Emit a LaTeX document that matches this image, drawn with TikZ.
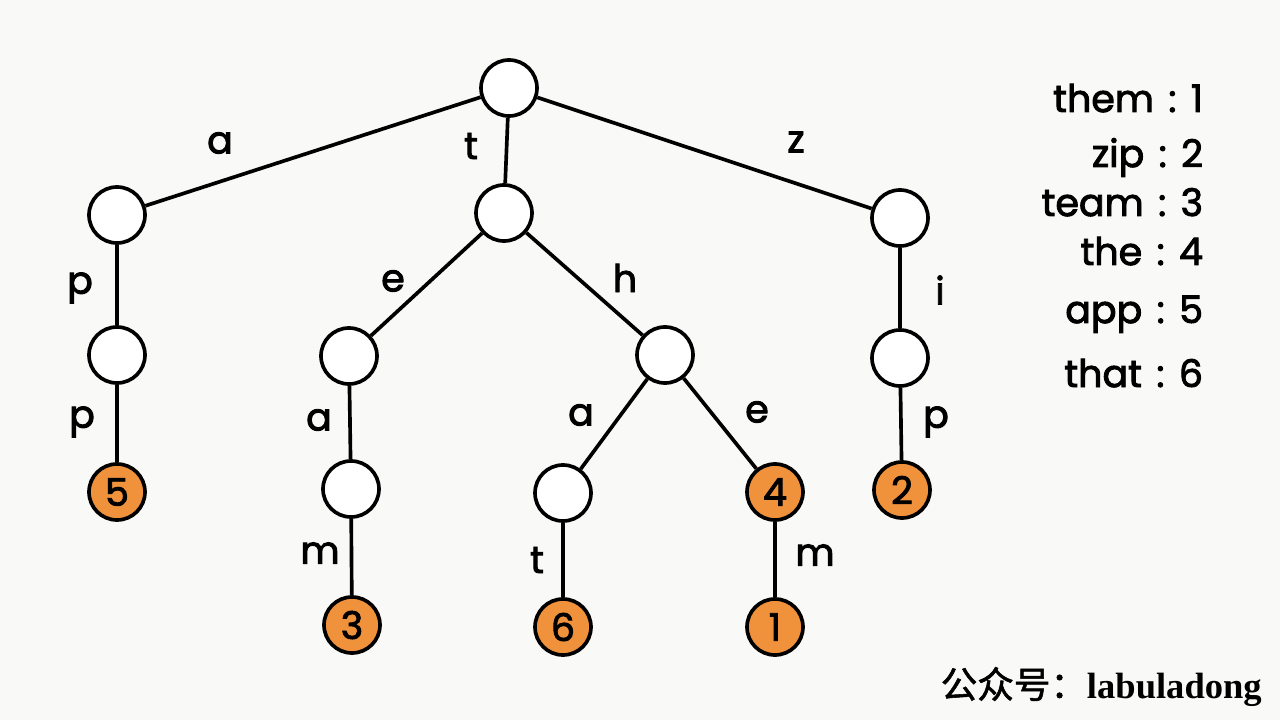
\documentclass[tikz,border=0pt]{standalone}
\usepackage{fontspec}
\setmainfont{Poppins}[BoldFont={Poppins}, BoldFeatures={FakeBold=2.4}]
\newfontfamily\cjkfont{Noto Sans CJK SC}[BoldFont={Noto Sans CJK SC}, BoldFeatures={FakeBold=1.5}]
\newfontfamily\signfont{Liberation Serif}
\definecolor{trieorange}{RGB}{240,145,60}
\definecolor{paper}{RGB}{249,249,247}
\newcommand{\colsep}{\hspace{0.38em}:\hspace{0.38em}}

\begin{document}
\begin{tikzpicture}[
        trienode/.style={circle, draw, line width=2.6pt, minimum size=1.4cm, inner sep=0pt, fill=white},
        wordend/.style={trienode, fill=trieorange, font=\fontsize{27}{30}\selectfont\bfseries},
        lbl/.style={font=\fontsize{27}{30}\selectfont\bfseries},
        lnk/.style={line width=2.6pt},
        legend/.style={anchor=base east, font=\fontsize{27}{30}\selectfont\bfseries}
    ]
        \fill[paper] (0,0) rectangle (32,18);
        \useasboundingbox (0,0) rectangle (32,18);

        % trie nodes
        \node[trienode] (root) at (12.725,15.8) {};
        \node[trienode] (na) at (2.925,12.625) {};
        \node[trienode] (nt) at (12.6,12.675) {};
        \node[trienode] (nz) at (22.5,12.55) {};
        \node[trienode] (nap) at (2.925,9.125) {};
        \node[wordend] (napp) at (2.925,5.7) {5};
        \node[trienode] (nte) at (8.725,9.1) {};
        \node[trienode] (ntea) at (8.775,5.775) {};
        \node[wordend] (nteam) at (8.8,2.375) {3};
        \node[trienode] (nth) at (16.625,9.125) {};
        \node[trienode] (ntha) at (14.075,5.675) {};
        \node[wordend] (nthat) at (14.075,2.325) {6};
        \node[wordend] (nthe) at (19.375,5.7) {4};
        \node[wordend] (nthem) at (19.375,2.325) {1};
        \node[trienode] (nzi) at (22.5,9.05) {};
        \node[wordend] (nzip) at (22.55,5.75) {2};

        % links
        \draw[lnk] (root) -- (na);
        \draw[lnk] (root) -- (nt);
        \draw[lnk] (root) -- (nz);
        \draw[lnk] (na) -- (nap);
        \draw[lnk] (nap) -- (napp);
        \draw[lnk] (nt) -- (nte);
        \draw[lnk] (nte) -- (ntea);
        \draw[lnk] (ntea) -- (nteam);
        \draw[lnk] (nt) -- (nth);
        \draw[lnk] (nth) -- (ntha);
        \draw[lnk] (ntha) -- (nthat);
        \draw[lnk] (nth) -- (nthe);
        \draw[lnk] (nthe) -- (nthem);
        \draw[lnk] (nz) -- (nzi);
        \draw[lnk] (nzi) -- (nzip);

        % letters on the links
        \node[lbl] (la) at (5.5,14.425) {a};
        \node[lbl] (lt) at (11.775,14.35) {t};
        \node[lbl] (lz) at (19.9,14.45) {z};
        \node[lbl] (lap) at (2.0,10.8) {p};
        \node[lbl] (lapp) at (2.05,7.45) {p};
        \node[lbl] (lte) at (9.825,10.975) {e};
        \node[lbl] (lth) at (15.625,11.05) {h};
        \node[lbl] (ltea) at (7.975,7.5) {a};
        \node[lbl] (lteam) at (8.0,4.175) {m};
        \node[lbl] (ltha) at (14.525,7.625) {a};
        \node[lbl] (lthat) at (13.425,4.0) {t};
        \node[lbl] (lthe) at (18.925,7.7) {e};
        \node[lbl] (lthem) at (20.375,4.125) {m};
        \node[lbl] (lzi) at (23.5,10.75) {i};
        \node[lbl] (lzip) at (23.4,7.45) {p};

        % word list
        \node[legend] (w1) at (30.2,15.2) {them\colsep1};
        \node[legend] (w2) at (30.2,13.825) {zip\colsep2};
        \node[legend] (w3) at (30.2,12.6) {team\colsep3};
        \node[legend] (w4) at (30.2,11.375) {the\colsep4};
        \node[legend] (w5) at (30.2,9.925) {app\colsep5};
        \node[legend] (w6) at (30.2,8.325) {that\colsep6};

        \node[anchor=base east, inner sep=0pt] (sign) at (31.55,0.55)
            {\fontsize{26}{30}\selectfont\cjkfont\bfseries 公众号：\signfont\bfseries labuladong};
    \end{tikzpicture}
\end{document}
